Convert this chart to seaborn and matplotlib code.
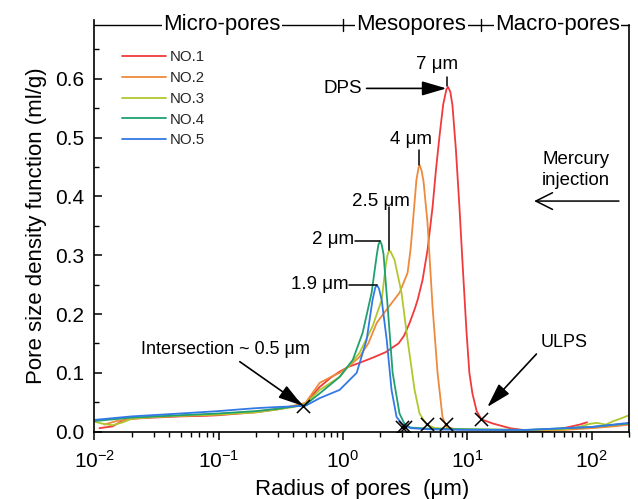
import numpy as np
import pandas as pd
import matplotlib
matplotlib.use("Agg")
import matplotlib.pyplot as plt
import seaborn as sns
from matplotlib.ticker import MultipleLocator, LogLocator, NullFormatter, FormatStrFormatter

# ---------------- data ----------------
series_names = ["NO.1", "NO.2", "NO.3", "NO.4", "NO.5"]
colors = ["#F2393C", "#EE8A3C", "#B2C72E", "#21A06F", "#3379E5"]

r1 = [0.011, 0.014, 0.017, 0.02, 0.03, 0.05, 0.08, 0.1, 0.15, 0.2, 0.3, 0.4, 0.5,
      0.65, 0.8, 0.94, 1.1, 1.36, 1.7, 2.2, 2.8, 3.1, 3.44, 3.8, 4.0, 4.37, 4.8,
      5.26, 5.6, 6.0, 6.4, 6.8, 7.0, 7.3, 7.6, 8.1, 8.65, 9.2, 9.86, 10.4, 11.0,
      11.9, 13.0, 16, 22, 30, 45, 66, 80, 92]
v1 = [0.006, 0.009, 0.019, 0.022, 0.024, 0.026, 0.027, 0.028, 0.031, 0.033, 0.038,
      0.043, 0.048, 0.076, 0.092, 0.102, 0.110, 0.117, 0.125, 0.135, 0.150, 0.163,
      0.185, 0.210, 0.225, 0.258, 0.310, 0.382, 0.445, 0.505, 0.556, 0.582, 0.586,
      0.578, 0.555, 0.480, 0.382, 0.280, 0.170, 0.100, 0.065, 0.035, 0.021, 0.014,
      0.006, 0.002, 0.001, 0.008, 0.012, 0.016]

r2 = [0.012, 0.015, 0.02, 0.03, 0.05, 0.1, 0.2, 0.3, 0.4, 0.5, 0.65, 0.8, 0.94,
      1.1, 1.36, 1.6, 1.87, 2.2, 2.6, 2.85, 3.1, 3.31, 3.5, 3.63, 3.9, 4.05, 4.15,
      4.3, 4.45, 4.79, 5.26, 5.77, 6.32, 6.8, 8, 15, 30, 60, 100, 150, 200]
v2 = [0.012, 0.018, 0.022, 0.025, 0.027, 0.030, 0.034, 0.039, 0.044, 0.049, 0.083,
      0.093, 0.100, 0.110, 0.127, 0.150, 0.185, 0.205, 0.225, 0.236, 0.255, 0.270,
      0.310, 0.349, 0.428, 0.448, 0.453, 0.443, 0.425, 0.355, 0.212, 0.100, 0.025,
      0.008, 0.004, 0.003, 0.002, 0.003, 0.006, 0.009, 0.012]

r3 = [0.01, 0.012, 0.014, 0.017, 0.02, 0.03, 0.05, 0.1, 0.2, 0.3, 0.4, 0.5, 0.65,
      0.94, 1.36, 1.73, 2.05, 2.2, 2.28, 2.35, 2.42, 2.6, 2.96, 3.31, 3.77, 4.13,
      4.7, 5.5, 10, 30, 60, 80, 95, 110, 130, 150, 170, 200]
v3 = [0.017, 0.013, 0.011, 0.016, 0.022, 0.025, 0.027, 0.029, 0.033, 0.038, 0.042,
      0.047, 0.071, 0.093, 0.134, 0.179, 0.224, 0.280, 0.300, 0.308, 0.306, 0.292,
      0.236, 0.156, 0.071, 0.031, 0.012, 0.006, 0.004, 0.003, 0.004, 0.008, 0.013,
      0.015, 0.012, 0.018, 0.022, 0.028]

r4 = [0.01, 0.02, 0.05, 0.1, 0.2, 0.3, 0.4, 0.5, 0.65, 0.94, 1.2, 1.44, 1.7, 1.87,
      1.93, 1.99, 2.05, 2.12, 2.29, 2.51, 2.85, 3.13, 3.5, 5, 10, 30, 100, 200]
v4 = [0.018, 0.024, 0.028, 0.031, 0.035, 0.039, 0.043, 0.046, 0.065, 0.093, 0.122,
      0.168, 0.236, 0.300, 0.318, 0.324, 0.318, 0.302, 0.212, 0.100, 0.031, 0.013,
      0.007, 0.005, 0.004, 0.003, 0.008, 0.014]

r5 = [0.01, 0.02, 0.05, 0.1, 0.15, 0.2, 0.3, 0.4, 0.5, 0.65, 0.94, 1.29, 1.55, 1.73,
      1.82, 1.88, 1.95, 2.05, 2.25, 2.46, 2.7, 3.02, 3.5, 5, 10, 30, 100, 200]
v5 = [0.020, 0.026, 0.031, 0.035, 0.038, 0.040, 0.042, 0.043, 0.044, 0.057, 0.071,
      0.100, 0.156, 0.224, 0.245, 0.249, 0.243, 0.224, 0.156, 0.071, 0.025, 0.012,
      0.006, 0.004, 0.003, 0.003, 0.008, 0.015]

# marked points (x markers)
mark_r = [0.474, 3.0, 3.17, 4.77, 6.78, 12.9]
mark_v = [0.044, 0.0085, 0.0075, 0.0126, 0.0126, 0.021]

region_names = ["Micro-pores", "Mesopores", "Macro-pores"]
region_bounds = [0.01, 1.0, 13.0, 200.0]
region_centers = [0.106, 3.56, 53.0]

# ---------------- build long table ----------------
frames = []
for name, r, v in zip(series_names, [r1, r2, r3, r4, r5], [v1, v2, v3, v4, v5]):
    frames.append(pd.DataFrame({"radius": r, "psd": v, "sample": name}))
df = pd.concat(frames, ignore_index=True)

# ---------------- style ----------------
sns.set_theme(style="ticks")
plt.rcParams["font.family"] = ["Liberation Sans", "DejaVu Sans"]
plt.rcParams["mathtext.fontset"] = "custom"
plt.rcParams["mathtext.rm"] = "Liberation Sans"
plt.rcParams["mathtext.default"] = "regular"

fig = plt.figure(figsize=(6.38, 4.99), dpi=100)
ax = fig.add_axes([0.1478, 0.1349, 0.8381, 0.8253])

sns.lineplot(data=df, x="radius", y="psd", hue="sample", palette=colors,
             estimator=None, sort=True, linewidth=1.3, ax=ax)

ax.set_xscale("log")
ax.set_xlim(0.01, 200)
ax.set_ylim(0, 0.7)

ax.set_yticks([0.0, 0.1, 0.2, 0.3, 0.4, 0.5, 0.6])
ax.yaxis.set_major_formatter(FormatStrFormatter("%.1f"))
ax.set_yticks(np.arange(0.05, 0.66, 0.1), minor=True)
ax.xaxis.set_major_locator(LogLocator(base=10, numticks=10))
ax.xaxis.set_minor_locator(LogLocator(base=10, subs=np.arange(2, 10), numticks=20))
ax.xaxis.set_minor_formatter(NullFormatter())

ax.tick_params(axis="y", which="major", direction="in", length=6, width=1.1,
               labelsize=15, color="black", labelcolor="black", pad=7)
ax.tick_params(axis="y", which="minor", direction="in", length=3.5, width=1.0, color="black")
ax.tick_params(axis="x", which="major", direction="out", length=6, width=1.1,
               labelsize=15, color="black", labelcolor="black", pad=7)
ax.tick_params(axis="x", which="minor", direction="out", length=3.5, width=1.0, color="black")

for s in ["left", "bottom", "right"]:
    ax.spines[s].set_color("black")
    ax.spines[s].set_linewidth(1.2)
ax.spines["top"].set_visible(False)
ax.spines["right"].set_bounds(0, 0.692)

ax.set_xlabel("Radius of pores  (μm)", fontsize=16, color="black", labelpad=5)
ax.set_ylabel("Pore size density function (ml/g)", fontsize=16, color="black", labelpad=6)

# legend
ax.legend(loc="upper left", bbox_to_anchor=(0.052, 0.926), frameon=False,
          fontsize=10.8, handlelength=2.9, handletextpad=0.25, labelspacing=0.45,
          borderpad=0, borderaxespad=0)
for line in ax.get_legend().get_lines():
    line.set_linewidth(1.3)

# region bracket on top
yb = 0.692
ax.plot([region_bounds[0], region_bounds[-1]], [yb, yb], color="black", lw=1.0,
        clip_on=False, zorder=3)
for b in region_bounds[1:-1]:
    ax.plot([b, b], [0.681, 0.701], color="black", lw=1.0, clip_on=False, zorder=3)
for name, c in zip(region_names, region_centers):
    ax.text(c, yb, name, ha="center", va="center", fontsize=16, color="black",
            bbox=dict(facecolor="white", edgecolor="none", pad=0.8), zorder=4,
            clip_on=False)

# x markers
ax.scatter(mark_r, mark_v, marker="x", s=90, color="black", linewidths=1.1, zorder=5)

fs_ann = 13.5
filled = dict(arrowstyle="-|>,head_length=0.75,head_width=0.22", color="black",
              lw=1.2, mutation_scale=20, shrinkA=0, shrinkB=0)

# DPS
ax.annotate("", xy=(6.8, 0.5835), xytext=(1.55, 0.5835), arrowprops=filled)
ax.text(1.42, 0.5835, "DPS", ha="right", va="center", fontsize=fs_ann, color="black")
# peak labels
ax.plot([6.9, 6.9], [0.587, 0.6035], color="black", lw=1.1)
ax.text(5.76, 0.624, "7 μm", ha="center", va="center", fontsize=fs_ann, color="black")
ax.plot([4.1, 4.1], [0.453, 0.479], color="black", lw=1.1)
ax.text(3.55, 0.497, "4 μm", ha="center", va="center", fontsize=fs_ann, color="black")
ax.plot([2.33, 2.33], [0.308, 0.382], color="black", lw=1.1)
ax.text(2.01, 0.391, "2.5 μm", ha="center", va="center", fontsize=fs_ann, color="black")
ax.plot([1.26, 1.97], [0.324, 0.324], color="black", lw=1.1)
ax.text(0.84, 0.326, "2 μm", ha="center", va="center", fontsize=fs_ann, color="black")
ax.plot([1.11, 1.87], [0.249, 0.249], color="black", lw=1.1)
ax.text(0.65, 0.250, "1.9 μm", ha="center", va="center", fontsize=fs_ann, color="black")

# intersection
ax.annotate("", xy=(0.474, 0.044), xytext=(0.148, 0.119), arrowprops=filled)
ax.text(0.114, 0.139, "Intersection ~ 0.5 μm", ha="center", va="center",
        fontsize=13, color="black")

# ULPS
ax.annotate("", xy=(14.5, 0.042), xytext=(36, 0.132), arrowprops=filled)
ax.text(60.4, 0.151, "ULPS", ha="center", va="center", fontsize=13, color="black")

# Mercury injection
ax.annotate("", xy=(34.5, 0.392), xytext=(166, 0.392),
            arrowprops=dict(arrowstyle="->,head_length=0.6,head_width=0.3",
                            color="black", lw=1.1, mutation_scale=20,
                            shrinkA=0, shrinkB=0))
ax.text(75, 0.445, "Mercury\ninjection", ha="center", va="center", fontsize=13.4,
        color="black", linespacing=1.25)

fig.savefig("out.png", dpi=100)
